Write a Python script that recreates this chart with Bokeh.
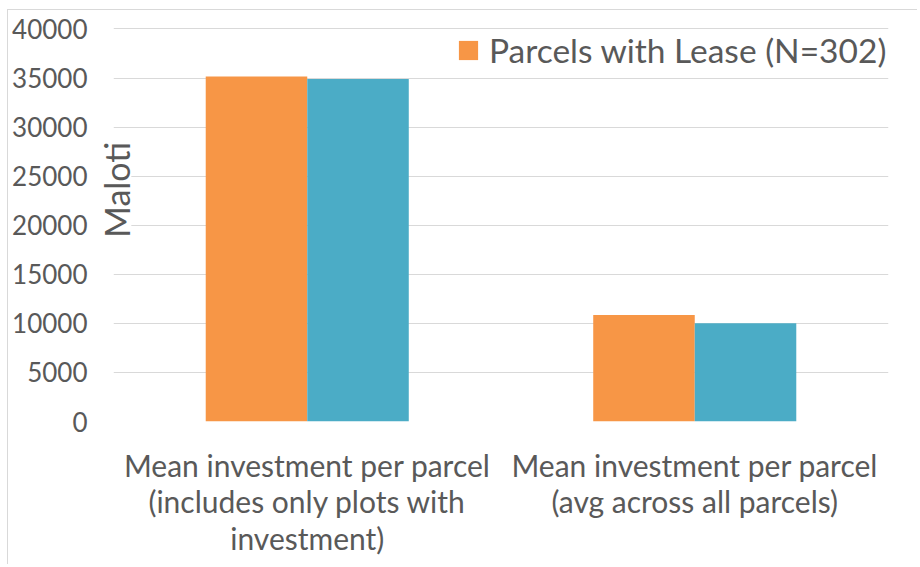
from bokeh.plotting import figure
from bokeh.models import FactorRange, Range1d, FixedTicker, Legend, LegendItem, ColumnDataSource, BoxAnnotation
from bokeh.transform import dodge
from bokeh.embed import file_html
from bokeh.resources import INLINE

categories = ["Mean investment per parcel\n(includes only plots with\ninvestment)",
              "Mean investment per parcel\n(avg across all parcels)"]
lease = [35150, 10850]
other = [34900, 10000]
y_ticks = [0, 5000, 10000, 15000, 20000, 25000, 30000, 35000, 40000]
lease_label = "Parcels with Lease (N=302)"
y_label = "Maloti"

FONT = "Lato"
TXT = "#595959"

src = ColumnDataSource(dict(cat=categories, lease=lease, other=other))

p = figure(width=910, height=555, output_backend="svg", toolbar_location=None,
           x_range=FactorRange(*categories, range_padding=0), y_range=Range1d(0, 40150))
p.min_border_left = 105
p.min_border_right = 30
p.min_border_top = 17
p.min_border_bottom = 144
p.outline_line_color = None
p.styles = {"border-left": "1px solid #d9d9d9", "border-top": "1px solid #d9d9d9",
            "margin-left": "7px", "margin-top": "9px"}

bw = 0.262
r1 = p.vbar(x=dodge("cat", -bw / 2, range=p.x_range), top="lease", width=bw, source=src,
            fill_color="#F79646", line_color=None)
r2 = p.vbar(x=dodge("cat", bw / 2, range=p.x_range), top="other", width=bw, source=src,
            fill_color="#4BACC6", line_color=None)

p.xgrid.grid_line_color = None
p.ygrid.grid_line_color = "#d9d9d9"
p.ygrid.grid_line_width = 1
p.yaxis.ticker = FixedTicker(ticks=y_ticks)

# white patch behind the axis title, interrupting the gridlines as in the original
p.add_layout(BoxAnnotation(left=0, right=0.046, bottom=18700, top=28500,
                           fill_color="white", fill_alpha=1, line_color=None, level="underlay"))

for ax in (p.xaxis, p.yaxis):
    ax.axis_line_color = None
    ax.major_tick_line_color = None
    ax.minor_tick_line_color = None
    ax.major_label_text_font = FONT
    ax.major_label_text_color = TXT

p.yaxis.major_label_text_font_size = "26px"
p.yaxis.major_label_standoff = 20
p.yaxis.axis_label = "\u00a0" * 8 + y_label
p.yaxis.axis_label_text_font = FONT
p.yaxis.axis_label_text_font_size = "34px"
p.yaxis.axis_label_text_font_style = "normal"
p.yaxis.axis_label_text_color = TXT
p.yaxis.axis_label_standoff = -128

p.xaxis.major_label_text_font_size = "30px"
p.xaxis.major_label_text_line_height = 1.02
p.xaxis.major_label_standoff = 19

legend = Legend(items=[LegendItem(label=lease_label, renderers=[r1])],
                location=(343, 351), padding=0, margin=0, spacing=0,
                glyph_width=24, glyph_height=24, label_standoff=9,
                label_text_font=FONT, label_text_font_size="33.5px", label_text_color=TXT,
                background_fill_alpha=0, border_line_color=None)
p.add_layout(legend)

open("out.html", "w").write(file_html(p, INLINE))
